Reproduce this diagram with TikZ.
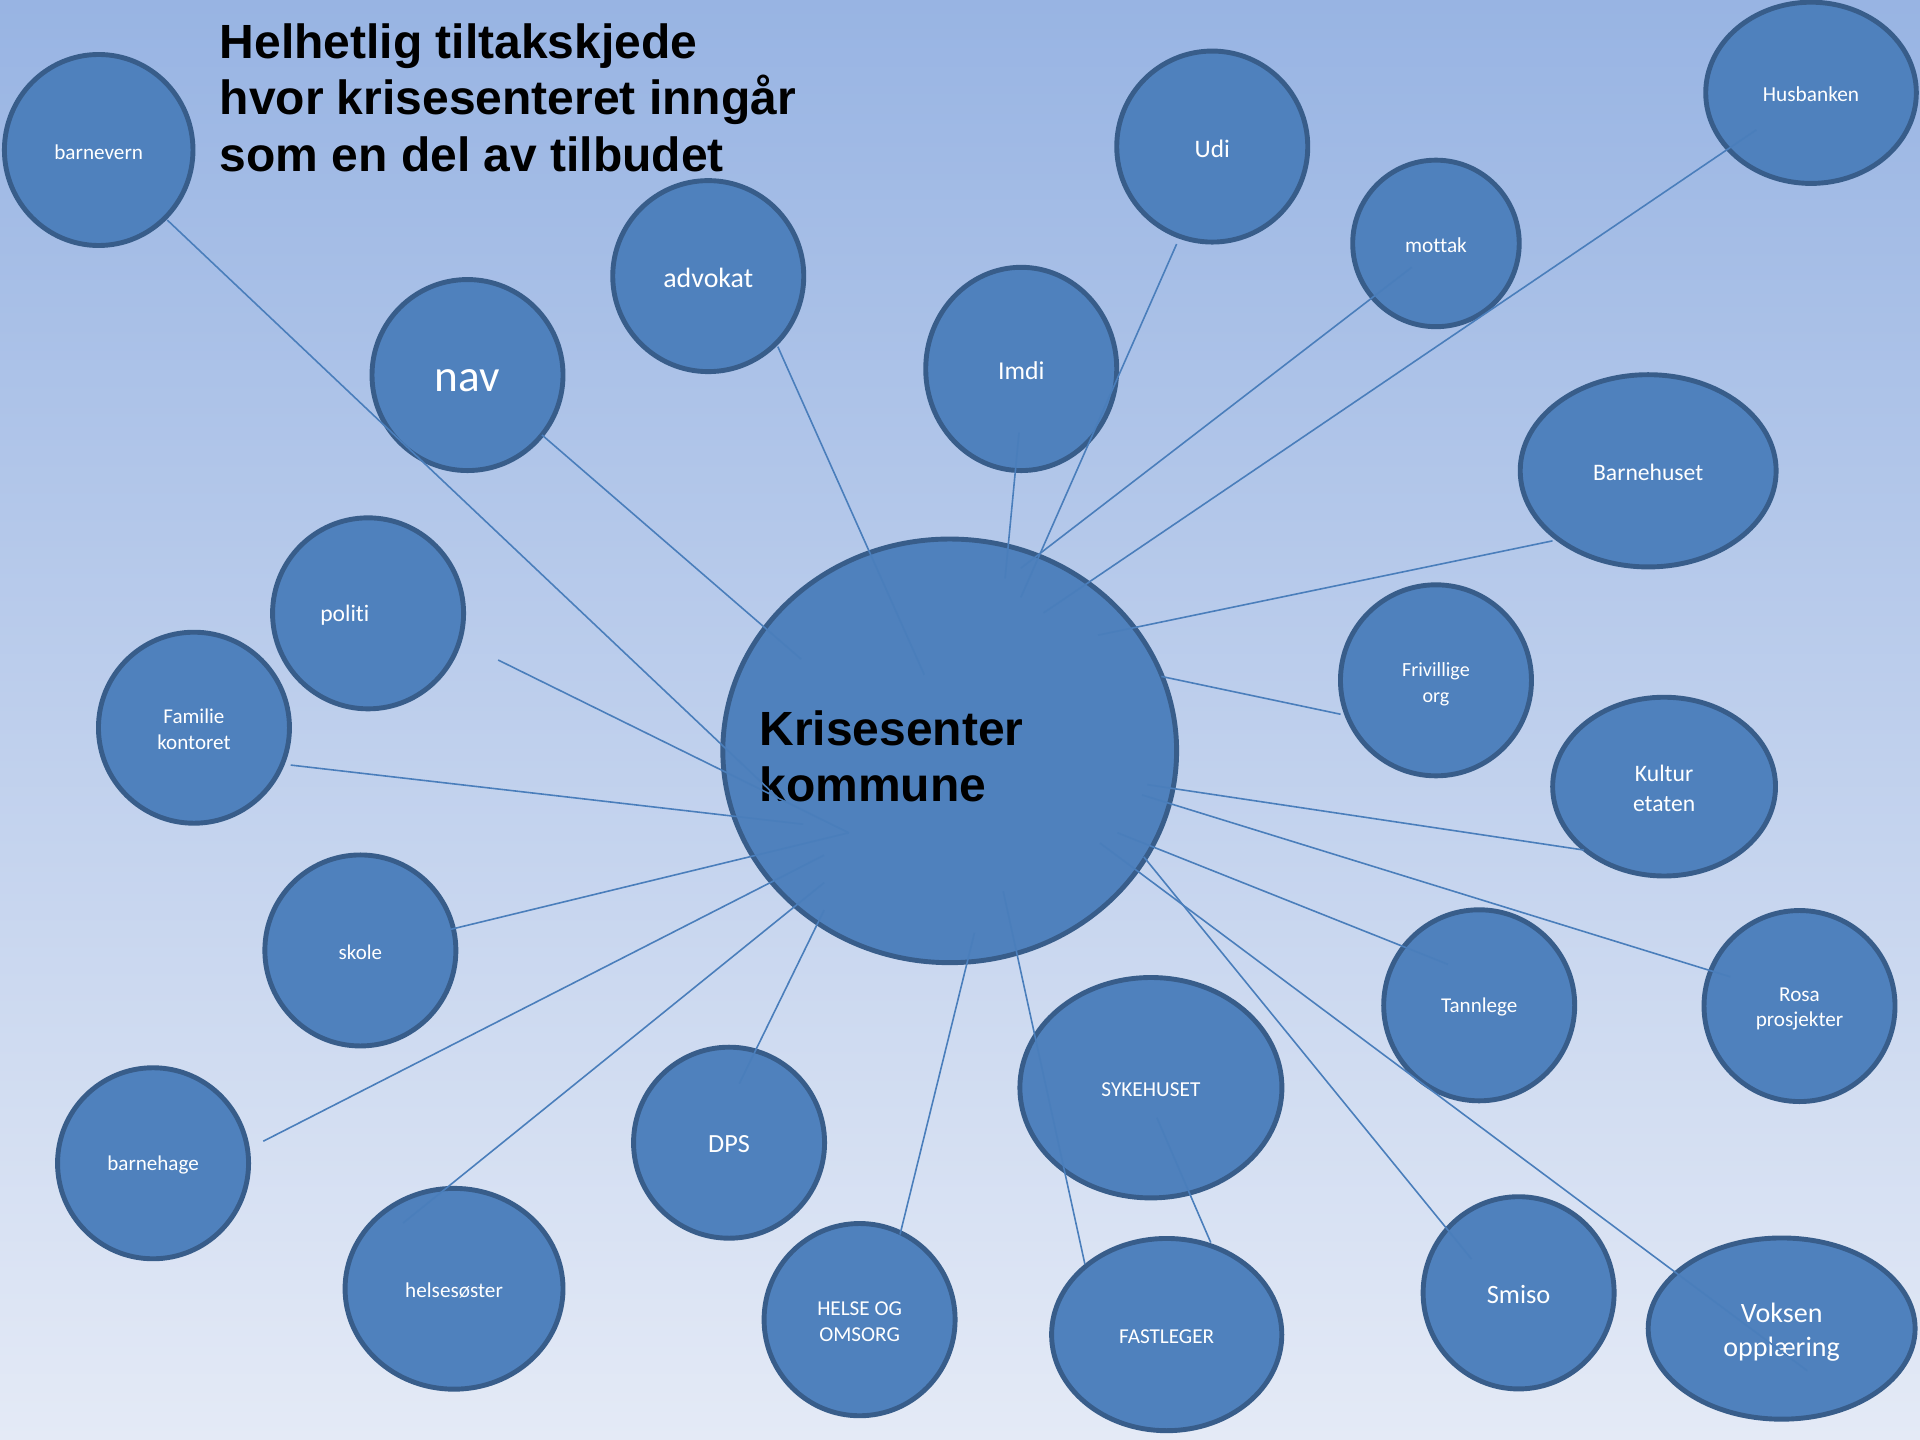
\documentclass[tikz,border=0pt]{standalone}
\usepackage{fontspec}
\setmainfont{Carlito}[Ligatures={NoCommon}]
\newfontfamily\headfont{Liberation Sans}
\usetikzlibrary{shapes.geometric}
\definecolor{bgtop}{HTML}{98B4E3}
\definecolor{bgbot}{HTML}{E4EAF6}
\definecolor{bubble}{HTML}{4F81BD}
\definecolor{bubbleline}{HTML}{385D8A}
\definecolor{connc}{HTML}{4A7EBB}
\newcommand\myfs[2]{\fontsize{#1}{#2}\selectfont}
\begin{document}
\begin{tikzpicture}[x=0.5pt,y=-0.5pt,
  bub/.style={ellipse, draw=bubbleline, line width=2pt, fill=bubble, inner sep=0pt},
  bsz/.style 2 args={minimum width=#1pt, minimum height=#2pt},
  btxt/.style={text=white, align=center, inner sep=0pt, yshift=-0.75pt},
  conn/.style={draw=connc, line width=0.65pt},
  headtext/.style={anchor=base west, inner sep=0pt, font=\headfont\bfseries\myfs{19.6}{23.2}, text=black}]

\shade[top color=bgtop, bottom color=bgbot] (0,0) rectangle (1568,1176);
\useasboundingbox (0,0) rectangle (1568,1176);

% bubbles
\node[bub, bsz={77}{78}, label={[btxt, font=\myfs{8.65}{10.5}]center:barnevern}] (barnevern) at (80.6,122.5) {};
\node[bub, bsz={78}{78}, label={[btxt, yshift=-1.5pt, font=\myfs{18.5}{22}]center:nav}] (nav) at (381.8,306.3) {};
\node[bub, bsz={78}{78}, label={[btxt, font=\myfs{11.4}{14}]center:advokat}] (advokat) at (578.4,225.5) {};
\node[bub, bsz={78}{83}, label={[btxt, font=\myfs{10.5}{13}]center:Imdi}] (imdi) at (834,301.3) {};
\node[bub, bsz={78}{78}, label={[btxt, font=\myfs{10.3}{13}]center:Udi}] (udi) at (990,119.7) {};
\node[bub, bsz={68}{68}, label={[btxt, font=\myfs{8.7}{10.5}]center:mottak}] (mottak) at (1172.7,198.8) {};
\node[bub, bsz={86}{74}, label={[btxt, font=\myfs{8.7}{10.5}]center:Husbanken}] (husbanken) at (1479,75.8) {};
\node[bub, bsz={104.5}{78.5}, label={[btxt, font=\myfs{9.65}{12}]center:Barnehuset}] (barnehuset) at (1346,384.5) {};
\node[bub, bsz={78}{78}, label={[btxt, yshift=-0.75pt, font=\myfs{8.2}{10.5}]center:{Frivillige\\org}}] (frivillige) at (1172.7,555.6) {};
\node[bub, bsz={91}{73}, label={[btxt, font=\myfs{9.65}{12}]center:{Kultur\\etaten}}] (kultur) at (1359,642.4) {};
\node[bub, bsz={78}{78}, label={[btxt, yshift=-0.5pt, font=\myfs{8.65}{10.5}]center:{Rosa\\prosjekter}}] (rosa) at (1469.6,821.6) {};
\node[bub, bsz={78}{78}, label={[btxt, font=\myfs{8.6}{10.5}]center:Tannlege}] (tannlege) at (1208,821) {};
\node[bub, bsz={109}{74}, label={[btxt, yshift=-0.75pt, font=\myfs{11.45}{14}]center:{Voksen\\oppl{\ae}ring}}] (voksen) at (1455,1085) {};
\node[bub, bsz={78}{78.5}, label={[btxt, font=\myfs{10.8}{13}]center:Smiso}] (smiso) at (1240.2,1055.8) {};
\node[bub, bsz={107}{90}, label={[btxt, font=\myfs{8.7}{10.5}]center:SYKEHUSET}] (sykehuset) at (939.9,888.3) {};
\node[bub, bsz={94}{78.5}, label={[btxt, font=\myfs{8.65}{10.5}]center:FASTLEGER}] (fastleger) at (952.8,1089.9) {};
\node[bub, bsz={78}{78.5}, label={[btxt, font=\myfs{8.65}{10.5}]center:{HELSE OG\\OMSORG}}] (helse) at (702,1077.7) {};
\node[bub, bsz={78}{78}, label={[btxt, font=\myfs{10.7}{13}]center:DPS}] (dps) at (595.4,933.2) {};
\node[bub, bsz={89}{82}, label={[btxt, font=\myfs{8.65}{10.5}]center:helses{\o}ster}] (helsesoster) at (370.8,1052.5) {};
\node[bub, bsz={78}{78}, label={[btxt, font=\myfs{8.6}{10.5}]center:barnehage}] (barnehage) at (125,950) {};
\node[bub, bsz={78}{78}, label={[btxt, font=\myfs{8.55}{10.5}]center:skole}] (skole) at (294.3,776.2) {};
\node[bub, bsz={78}{78}, label={[btxt, yshift=0.25pt, font=\myfs{8.6}{10.5}]center:{Familie\\kontoret}}] (familie) at (158.4,594.3) {};
\node[bub, bsz={78}{78}, label={[btxt, xshift=-9.5pt, font=\myfs{9.65}{12}]center:politi}] (politi) at (300.6,500.9) {};
\node[bub, bsz={185.3}{173}] (krise) at (775.6,613.2) {};

% centre text
\node[headtext] (krise1) at (619.9,608.5) {Krisesenter};
\node[headtext] (krise2) at (619.9,654.9) {kommune};

% title
\node[headtext] (title1) at (179,47.6) {Helhetlig tiltakskjede};
\node[headtext] (title2) at (179,93.9) {hvor krisesenteret inng{\aa}r};
\node[headtext] (title3) at (179,140.2) {som en del av tilbudet};

% connector end points
\coordinate (barnevern-a) at (136.6,179.7);   \coordinate (barnevern-b) at (635.7,652.0);
\coordinate (nav-a) at (442.6,355.2);         \coordinate (nav-b) at (654.3,538.3);
\coordinate (advokat-a) at (635.2,283.1);     \coordinate (advokat-b) at (754.8,551.0);
\coordinate (imdi-a) at (832.2,353.3);        \coordinate (imdi-b) at (820.8,472.4);
\coordinate (udi-a) at (960.9,199.3);         \coordinate (udi-b) at (833.7,487.8);
\coordinate (mottak-a) at (1152.9,218.3);     \coordinate (mottak-b) at (833.7,464.0);
\coordinate (husbanken-a) at (1434.4,106.0);  \coordinate (husbanken-b) at (852.3,500.5);
\coordinate (barnehuset-a) at (1267.9,441.7); \coordinate (barnehuset-b) at (896.8,518.7);
\coordinate (frivillige-a) at (1094.8,583.3); \coordinate (frivillige-b) at (948.4,552.4);
\coordinate (kultur-a) at (1293.4,694.2);     \coordinate (kultur-b) at (937.0,640.8);
\coordinate (rosa-a) at (1413.0,797.7);       \coordinate (rosa-b) at (932.7,649.2);
\coordinate (tannlege-a) at (1182.4,787.5);   \coordinate (tannlege-b) at (912.6,680.1);
\coordinate (voksen-a) at (1475.9,1119.4);    \coordinate (voksen-b) at (898.3,688.5);
\coordinate (smiso-a) at (1201.8,1028.3);     \coordinate (smiso-b) at (934.1,699.8);
\coordinate (fastleger-a) at (886.0,1032.4);  \coordinate (fastleger-b) at (819.3,727.9);
\coordinate (syk-a) at (944.8,912.8);         \coordinate (syk-b) at (988.8,1014.8);
\coordinate (helse-a) at (735.0,1008.2);      \coordinate (helse-b) at (795.8,761.8);
\coordinate (dps-a) at (603.8,884.9);         \coordinate (dps-b) at (673.0,743.3);
\coordinate (helsesoster-a) at (329.2,998.8); \coordinate (helsesoster-b) at (673.0,720.9);
\coordinate (barnehage-a) at (215,932);       \coordinate (barnehage-b) at (673.0,698.4);
\coordinate (skole-a) at (367.5,759.1);       \coordinate (skole-b) at (693.1,680.1);
\coordinate (familie-a) at (237.4,624.8);     \coordinate (familie-b) at (655.8,673.1);
\coordinate (politi-a) at (406.8,539.0);      \coordinate (politi-b) at (693.1,680.1);

\foreach \n in {barnevern,nav,advokat,imdi,udi,mottak,husbanken,barnehuset,frivillige,kultur,rosa,tannlege,voksen,smiso,fastleger,syk,helse,dps,helsesoster,barnehage,skole,familie,politi}
  \draw[conn] (\n-a) -- (\n-b);
\end{tikzpicture}
\end{document}
